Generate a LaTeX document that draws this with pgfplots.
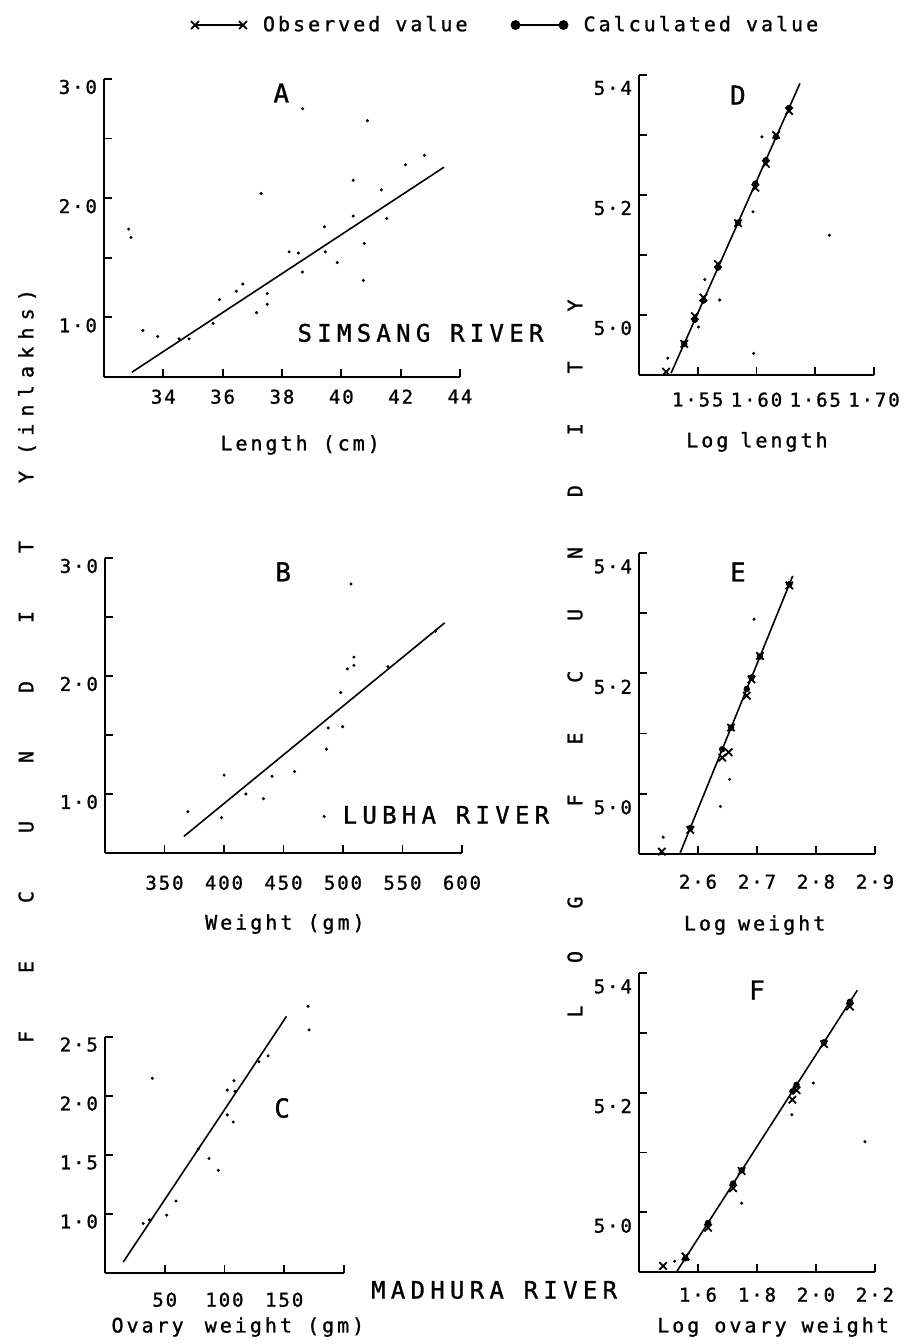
\documentclass[border=0pt]{standalone}
\usepackage{fontspec}
\setmainfont{DejaVu Sans Mono}[LetterSpace=15, FakeBold=1.2]
\newfontfamily\tikfam{DejaVu Sans Mono}[LetterSpace=10, FakeBold=1.2]
\newfontfamily\rivfam{DejaVu Sans Mono}[LetterSpace=22, FakeBold=1.2]
\usepackage{pgfplots}
\pgfplotsset{compat=1.18}

\newcommand\tickf{\tikfam\fontsize{9.5}{10}\selectfont}
\newcommand\lblf{\fontsize{10}{11}\selectfont}
\newcommand\panf{\fontsize{13}{13}\selectfont}
\newcommand\rivf{\rivfam\fontsize{12}{12}\selectfont}

\pgfplotsset{
  panel/.style={
    scale only axis,
    anchor=south west,
    axis lines*=left,
    axis line style={-, line width=1.1pt},
    tick align=inside,
    major tick length=4pt,
    tick style={line width=0.9pt, black},
    tick label style={font=\tickf},
    label style={font=\lblf},
    clip=false,
  },
  obs/.style={only marks, mark=x, mark size=2.6pt, line width=0.9pt, black},
  calc/.style={only marks, mark=*, mark size=1.4pt, black},
  dots/.style={only marks, mark=*, mark size=0.55pt, black},
  fitline/.style={no marks, line width=0.8pt, black},
  twomark legend/.style={legend image code/.code={\draw[##1] plot coordinates {(0pt,0pt) (24pt,0pt)};}},
}

\begin{document}
\begin{tikzpicture}
\useasboundingbox (0,0) rectangle (455.5pt,672pt);

% ---------------- A ----------------
\begin{axis}[panel, at={(52pt,483.5pt)}, width=178pt, height=149pt,
  xmin=32, xmax=44, ymin=0.5, ymax=3.0,
  xtick={34,36,38,40,42,44}, xticklabels={34,36,38,40,42,44},
  ytick={1,1.5,2,2.5,3}, yticklabels={1·0,{},2·0,{},3·0},
  xticklabel style={yshift=-2.75pt}, yticklabel style={yshift=-4pt},
  xlabel={Length (cm)}, xlabel style={at={(axis description cs:0.551,-0.228)}, anchor=center},
  legend columns=2,
  legend style={at={(axis description cs:1.131,1.181)}, anchor=center, draw=none, fill=none, font=\lblf,
    /tikz/every odd column/.append style={column sep=6pt},
    /tikz/every even column/.append style={column sep=20pt}},
  ]
\addlegendimage{black, mark=x, mark size=2.8pt, line width=0.9pt, twomark legend}
\addlegendentry{Observed value}
\addlegendimage{black, mark=*, mark size=2pt, line width=0.9pt, twomark legend}
\addlegendentry{Calculated value}
\addplot[dots, forget plot] coordinates {(32.83,1.74)(32.91,1.67)(33.31,0.89)(33.81,0.84)(34.53,0.82)(34.87,0.82)(35.68,0.95)(35.89,1.15)(36.46,1.22)(36.68,1.28)(37.14,1.04)(37.50,1.20)(37.50,1.11)(37.30,2.04)(38.24,1.55)(38.55,1.54)(38.69,1.38)(39.43,1.76)(39.46,1.55)(39.86,1.46)(40.40,2.15)(40.40,1.85)(40.77,1.62)(40.74,1.31)(40.88,2.65)(41.35,2.07)(41.53,1.83)(42.16,2.28)(42.80,2.36)(38.70,2.75)};
\addplot[fitline, forget plot] coordinates {(32.94,0.54)(43.46,2.26)};
\node[font=\panf] at (axis description cs:0.498,0.953) {A};
\node[font=\rivf] at (axis description cs:0.889,0.148) {SIMSANG RIVER};
\end{axis}

% ---------------- D ----------------
\begin{axis}[panel, at={(319.5pt,484.5pt)}, width=117.5pt, height=150pt,
  xmin=1.5, xmax=1.7, ymin=4.9, ymax=5.4,
  xtick={1.55,1.6,1.65,1.7}, xticklabels={1·55,1·60,1·65,1·70},
  ytick={5,5.1,5.2,5.3,5.4}, yticklabels={5·0,{},5·2,{},5·4},
  xticklabel style={yshift=-5.25pt}, yticklabel style={yshift=-6.5pt},
  xlabel={Log\hspace{6pt}length}, xlabel style={at={(axis description cs:0.502,-0.223)}, anchor=center},
  ]
\addplot[dots] coordinates {(1.6046,5.297)(1.597,5.172)(1.556,5.059)(1.5686,5.025)(1.5506,4.98)(1.5976,4.936)(1.5245,4.928)(1.662,5.133)};
\addplot[fitline] coordinates {(1.5273,4.903)(1.637,5.386)};
\addplot[calc] coordinates {(1.5385,4.952)(1.5475,4.992)(1.5548,5.024)(1.5672,5.079)(1.5843,5.154)(1.599,5.219)(1.608,5.258)(1.6167,5.297)(1.6277,5.345)};
\addplot[obs] coordinates {(1.5231,4.9055)(1.5385,4.952)(1.5475,4.998)(1.5548,5.029)(1.5672,5.085)(1.5843,5.153)(1.599,5.212)(1.608,5.252)(1.6167,5.300)(1.6277,5.340)};
\node[font=\panf] at (axis description cs:0.421,0.933) {D};
\end{axis}

% ---------------- B ----------------
\begin{axis}[panel, at={(52.5pt,245.5pt)}, width=178.5pt, height=147.5pt,
  xmin=300, xmax=600, ymin=0.5, ymax=3.0,
  xtick={350,400,450,500,550,600}, xticklabels={350,400,450,500,550,600},
  ytick={1,1.5,2,2.5,3}, yticklabels={1·0,{},2·0,{},3·0},
  xticklabel style={yshift=-7.75pt}, yticklabel style={yshift=-4pt},
  xlabel={Weight (gm)}, xlabel style={at={(axis description cs:0.504,-0.241)}, anchor=center},
  ]
\addplot[dots] coordinates {(369.6,0.85)(397.9,0.80)(400.1,1.16)(418.4,1.00)(433.1,0.96)(440.4,1.15)(459.3,1.19)(486.1,1.38)(487.6,1.56)(499.7,1.57)(498.0,1.86)(503.6,2.06)(509.2,2.09)(509.2,2.16)(537.7,2.08)(577.7,2.38)(506.7,2.78)(484.2,0.81)};
\addplot[fitline] coordinates {(366.2,0.64)(585.4,2.45)};
\node[font=\panf] at (axis description cs:0.499,0.953) {B};
\node[font=\rivf] at (axis description cs:0.955,0.129) {LUBHA RIVER};
\end{axis}

% ---------------- E ----------------
\begin{axis}[panel, at={(319.5pt,245pt)}, width=118pt, height=150.5pt,
  xmin=2.5, xmax=2.9, ymin=4.9, ymax=5.4,
  xtick={2.6,2.7,2.8,2.9}, xticklabels={2·6,2·7,2·8,2·9},
  ytick={5,5.1,5.2,5.3,5.4}, yticklabels={5·0,{},5·2,{},5·4},
  xticklabel style={yshift=-6.75pt}, yticklabel style={yshift=-6.75pt},
  xlabel={Log\hspace{6pt}weight}, xlabel style={at={(axis description cs:0.49,-0.236)}, anchor=center},
  ]
\addplot[dots] coordinates {(2.695,5.29)(2.6536,5.024)(2.638,4.979)(2.541,4.928)};
\addplot[fitline] coordinates {(2.569,4.9)(2.7606,5.362)};
\addplot[calc] coordinates {(2.587,4.943)(2.641,5.074)(2.656,5.110)(2.6826,5.174)(2.6906,5.193)(2.705,5.228)(2.7548,5.348)};
\addplot[obs] coordinates {(2.5387,4.904)(2.587,4.94)(2.641,5.06)(2.652,5.069)(2.656,5.11)(2.6826,5.163)(2.6906,5.19)(2.705,5.229)(2.7548,5.346)};
\node[font=\panf] at (axis description cs:0.419,0.937) {E};
\end{axis}

% ---------------- C ----------------
\begin{axis}[panel, at={(52.5pt,35.5pt)}, width=119.5pt, height=118pt,
  xmin=0, xmax=200, ymin=0.5, ymax=2.5,
  xtick={50,100,150,200}, xticklabels={50,100,150,{}},
  ytick={1,1.5,2,2.5}, yticklabels={1·0,1·5,2·0,2·5},
  xticklabel style={yshift=-6.25pt}, yticklabel style={yshift=-3.75pt},
  xlabel={Ovary\hspace{3pt} weight (gm)}, xlabel style={at={(axis description cs:0.556,-0.229)}, anchor=center},
  ]
\addplot[dots] coordinates {(32.0,0.92)(37.1,0.95)(51.6,0.99)(59.4,1.11)(78.0,1.55)(87.0,1.47)(94.8,1.37)(102.3,2.05)(102.3,1.84)(107.3,1.78)(107.9,2.13)(108.7,2.04)(128.8,2.29)(136.5,2.34)(39.6,2.15)(170,2.76)(170.8,2.56)};
\addplot[fitline] coordinates {(15.3,0.593)(151.9,2.675)};
\node[font=\panf] at (axis description cs:0.741,0.699) {C};
\node[font=\rivf] at (axis description cs:1.628,-0.072) {MADHURA RIVER};
\end{axis}

% ---------------- F ----------------
\begin{axis}[panel, at={(319.5pt,36pt)}, width=118pt, height=149.5pt,
  xmin=1.4, xmax=2.2, ymin=4.9, ymax=5.4,
  xtick={1.6,1.8,2.0,2.2}, xticklabels={1·6,1·8,2·0,2·2},
  ytick={5,5.1,5.2,5.3,5.4}, yticklabels={5·0,{},5·2,{},5·4},
  xticklabel style={yshift=-4.25pt}, yticklabel style={yshift=-6.75pt},
  xlabel={Log ovary weight}, xlabel style={at={(axis description cs:0.568,-0.184)}, anchor=center},
  ]
\addplot[dots] coordinates {(1.918,5.163)(1.748,5.015)(1.521,4.918)(1.991,5.216)(2.166,5.118)};
\addplot[fitline] coordinates {(1.527,4.9)(2.140,5.371)};
\addplot[calc] coordinates {(1.5575,4.923)(1.634,4.982)(1.719,5.048)(1.748,5.070)(1.92,5.202)(1.934,5.213)(2.027,5.284)(2.115,5.352)};
\addplot[obs] coordinates {(1.4815,4.91)(1.5575,4.926)(1.634,4.974)(1.719,5.04)(1.748,5.069)(1.92,5.188)(1.934,5.204)(2.027,5.281)(2.115,5.344)};
\node[font=\panf] at (axis description cs:0.5,0.943) {F};
\end{axis}

% ---------------- vertical titles ----------------
\node[rotate=90, font=\lblf, inner sep=0pt] at (13.5pt,339pt)
  {\makebox[286pt][s]{F\hfill E\hfill C\hfill U\hfill N\hfill D\hfill I\hfill T\hfill Y}\hspace{8pt}\makebox[83pt][s]{(\hfill i\hfill n\hfill l\hfill a\hfill k\hfill h\hfill s\hfill )}};
\node[rotate=90, font=\lblf, inner sep=0pt] at (287.5pt,342.75pt)
  {\makebox[60.5pt][s]{L\hfill O\hfill G}\hspace{45pt}\makebox[253.5pt][s]{F\hfill E\hfill C\hfill U\hfill N\hfill D\hfill I\hfill T\hfill Y}};
\end{tikzpicture}
\end{document}
